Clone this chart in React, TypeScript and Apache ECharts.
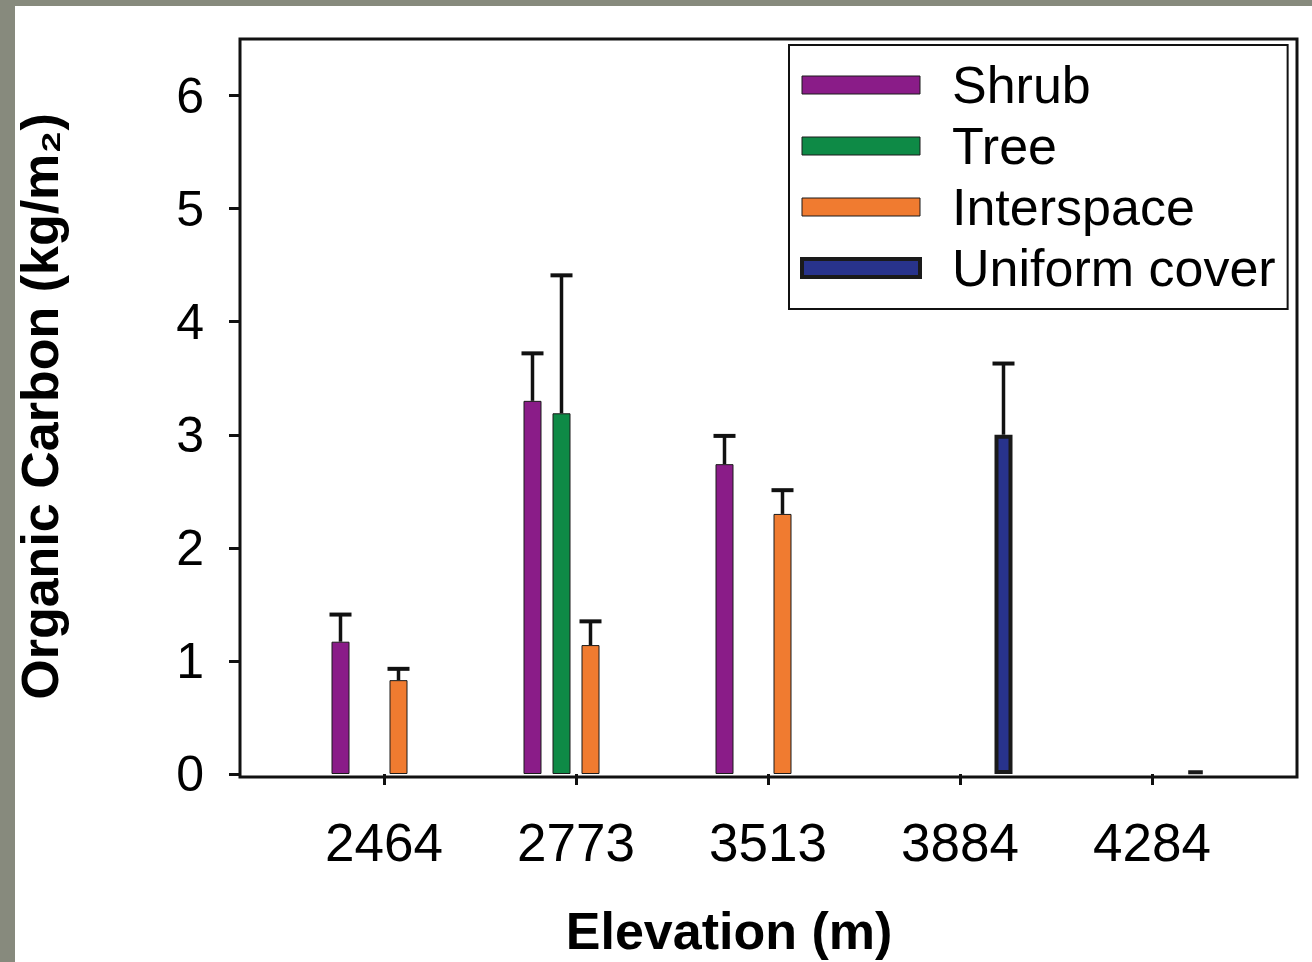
import React, { useEffect, useRef } from "react";
import * as echarts from "echarts";

// ---- data ----
const elevations = ["2464", "2773", "3513", "3884", "4284"];
const seriesNames = ["Shrub", "Tree", "Interspace", "Uniform cover"];
const shrub = [1.17, 3.3, 2.74, null, null];
const shrubErr = [0.24, 0.42, 0.25, null, null];
const tree = [null, 3.19, null, null, null];
const treeErr = [null, 1.22, null, null, null];
const interspace = [0.83, 1.14, 2.3, null, null];
const interspaceErr = [0.1, 0.21, 0.21, null, null];
const uniform = [null, null, null, 3.0, 0.03];
const uniformErr = [null, null, null, 0.63, null];
const yTicks = [0, 1, 2, 3, 4, 5, 6];

const colors = ["#8a1c88", "#0e8a46", "#f07b30", "#28338c"];
const borderWidths = [1, 1, 1, 4];
const FONT = "'Liberation Sans', Arial, Helvetica, sans-serif";
const BAR_W = 18;
const BAR_GAP = 11;

export default function App() {
  const ref = useRef<HTMLDivElement>(null);
  useEffect(() => {
    if (!ref.current) return;
    const chart = echarts.init(ref.current, null, { renderer: "svg" });
    const values = [shrub, tree, interspace, uniform];
    const errs = [shrubErr, treeErr, interspaceErr, uniformErr];
    const errData: number[][] = [];
    values.forEach((arr, k) => {
      arr.forEach((v, i) => {
        const e = errs[k][i];
        if (v != null && e != null) errData.push([i, v, v + e, k]);
      });
    });
    const barSeries = values.map((arr, k) => ({
      name: seriesNames[k],
      type: "bar",
      data: arr,
      barWidth: BAR_W,
      barGap: (BAR_GAP / BAR_W) * 100 + "%",
      itemStyle: {
        color: colors[k],
        borderColor: "#1a1a1a",
        borderWidth: borderWidths[k],
      },
    }));
    const option: any = {
      animation: false,
      backgroundColor: "#878a7d",
      textStyle: { fontFamily: FONT },
      graphic: [
        {
          type: "rect",
          z: -10,
          silent: true,
          shape: { x: 15, y: 6, width: 1297, height: 956 },
          style: { fill: "#ffffff" },
        },
        {
          type: "rect",
          z: 100,
          silent: true,
          shape: { x: 240, y: 39, width: 1057, height: 738 },
          style: { fill: "none", stroke: "#111", lineWidth: 3 },
        },
      ],
      grid: { left: 288, right: 64, top: 39, bottom: 185 },
      legend: {
        data: seriesNames.map((n, k) => ({
          name: n,
          itemStyle: {
            color: colors[k],
            borderColor: "#1a1a1a",
            borderWidth: borderWidths[k],
          },
        })),
        orient: "vertical",
        left: 789,
        top: 45,
        padding: [14, 12, 15, 11],
        itemWidth: 118,
        itemHeight: 18,
        itemGap: 9,
        backgroundColor: "#fff",
        borderColor: "#111",
        borderWidth: 2,
        borderRadius: 0,
        icon: "rect",
        textStyle: {
          fontSize: 52,
          lineHeight: 52,
          color: "#000",
          fontFamily: FONT,
          padding: [0, 0, 0, 27],
        },
      },
      xAxis: {
        type: "category",
        data: elevations,
        axisLine: { show: false },
        axisTick: {
          show: true,
          alignWithLabel: true,
          length: 11,
          lineStyle: { color: "#111", width: 3 },
        },
        axisLabel: { fontSize: 53, color: "#000", margin: 42, fontFamily: FONT },
        name: "Elevation (m)",
        nameLocation: "middle",
        nameGap: 131,
        nameTextStyle: {
          fontSize: 52,
          fontWeight: "bold",
          color: "#000",
          fontFamily: FONT,
          padding: [0, 78, 0, 0],
        },
      },
      yAxis: {
        type: "value",
        min: 0,
        max: 6.5,
        interval: 1,
        offset: 48,
        splitLine: { show: false },
        axisLine: { show: false },
        axisTick: {
          show: true,
          length: 11,
          customValues: yTicks,
          lineStyle: { color: "#111", width: 3 },
        },
        axisLabel: {
          fontSize: 50,
          color: "#000",
          margin: 36,
          customValues: yTicks,
          fontFamily: FONT,
        },
        name: "Organic Carbon (kg/m\u2082)",
        nameLocation: "middle",
        nameRotate: 90,
        nameGap: 174,
        nameTextStyle: {
          fontSize: 52,
          fontWeight: "bold",
          color: "#000",
          fontFamily: FONT,
        },
      },
      series: [
        ...barSeries,
        {
          type: "custom",
          name: "errors",
          z: 3,
          data: errData,
          encode: { x: 0, y: [1, 2] },
          renderItem: (params: any, api: any) => {
            const x = api.value(0);
            const v = api.value(1);
            const t = api.value(2);
            const k = api.value(3);
            const base = api.coord([x, v]);
            const top = api.coord([x, t]);
            const cx = base[0] + (k - 1.5) * (BAR_W + BAR_GAP);
            return {
              type: "group",
              children: [
                {
                  type: "line",
                  shape: { x1: cx, y1: base[1], x2: cx, y2: top[1] },
                  style: { stroke: "#111", lineWidth: 3.5 },
                },
                {
                  type: "line",
                  shape: { x1: cx - 11, y1: top[1], x2: cx + 11, y2: top[1] },
                  style: { stroke: "#111", lineWidth: 4 },
                },
              ],
            };
          },
        },
      ],
    };
    chart.setOption(option);
    return () => chart.dispose();
  }, []);
  return (
    <div
      ref={ref}
      style={{ position: "fixed", left: 0, top: 0, width: 1312, height: 962 }}
    />
  );
}
